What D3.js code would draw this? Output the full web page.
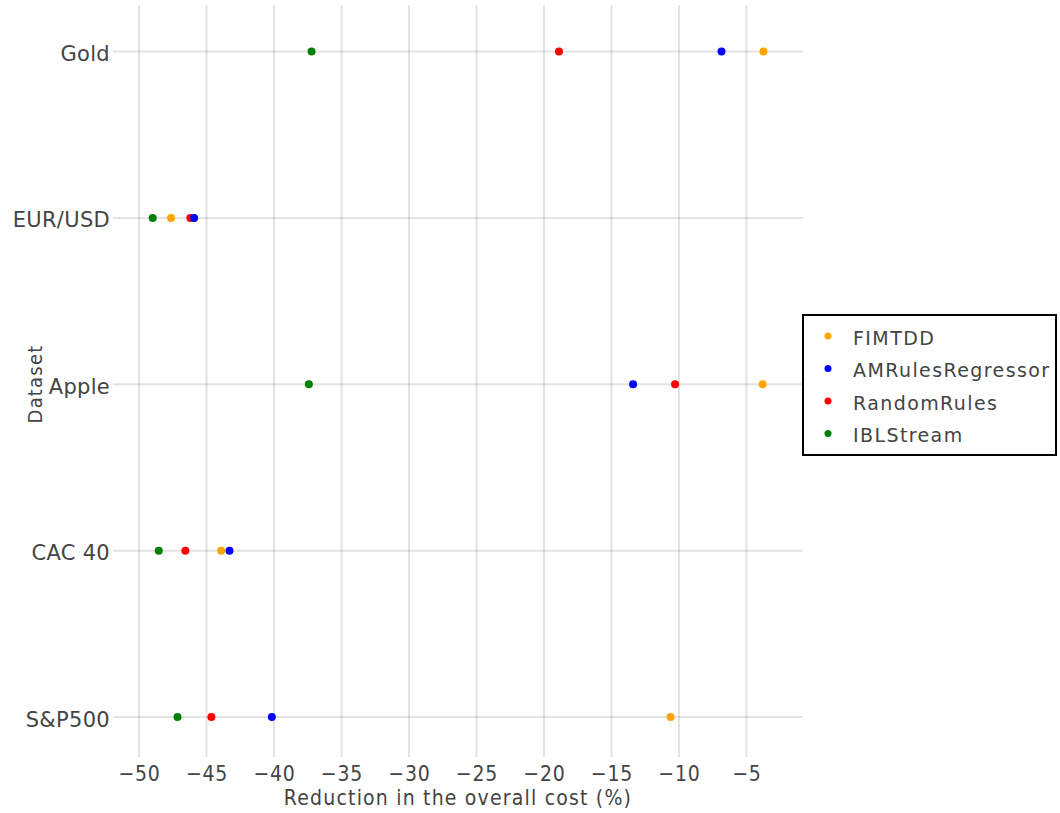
<!DOCTYPE html>
<html>
<head>
<meta charset="utf-8">
<script src="https://cdn.jsdelivr.net/npm/d3@7"></script>
<style>
  body { margin: 0; background: #fff; }
  svg { display: block; }
</style>
</head>
<body>
<div id="chart"></div>
<script>
// datasets, top to bottom
var datasets = ["Gold", "EUR/USD", "Apple", "CAC 40", "S&P500"]
var methods = ["FIMTDD", "AMRulesRegressor", "RandomRules", "IBLStream"]
var colors = ["orange", "blue", "red", "green"]

// reduction in overall cost (%) per dataset, one array per method
var fimtdd = [-3.74, -47.63, -3.80, -43.92, -10.62]
var amrules = [-6.85, -45.92, -13.40, -43.30, -40.16]
var randomRules = [-18.89, -46.20, -10.29, -46.57, -44.64]
var iblStream = [-37.22, -48.99, -37.42, -48.54, -47.15]
var series = [fimtdd, amrules, randomRules, iblStream]

var xTicks = [-50, -45, -40, -35, -30, -25, -20, -15, -10, -5]

var width = 1060, height = 813

var svg = d3.select("#chart").append("svg")
            .attr("width", width)
            .attr("height", height)

var x = d3.scaleLinear().domain([-51.93, -0.81]).range([113, 803])
var y = d3.scaleLinear().domain([-0.28, 4.24]).range([5, 757])

var grid = svg.append("g")

// vertical gridlines
grid.selectAll(".vg")
    .data(xTicks)
    .enter().append("line")
    .attr("x1", function(d) { return x(d) })
    .attr("x2", function(d) { return x(d) })
    .attr("y1", y.range()[0])
    .attr("y2", y.range()[1])
    .attr("stroke", "rgba(0,0,0,0.11)")
    .attr("stroke-width", 2)

// horizontal gridlines
grid.selectAll(".hg")
    .data(datasets)
    .enter().append("line")
    .attr("x1", x.range()[0])
    .attr("x2", x.range()[1])
    .attr("y1", function(d, i) { return y(i) })
    .attr("y2", function(d, i) { return y(i) })
    .attr("stroke", "rgba(0,0,0,0.11)")
    .attr("stroke-width", 2)

// x axis tick labels
var xAxis = d3.axisBottom(x).tickValues(xTicks).tickSize(0).tickPadding(0)
              .tickFormat(function(d) { return "\u2212" + Math.abs(d) })
var gx = svg.append("g").attr("transform", "translate(0,766)").call(xAxis)
gx.select(".domain").remove()
gx.selectAll("text")
  .attr("font-family", "DejaVu Sans Condensed")
  .attr("font-size", 21)
  .attr("letter-spacing", 0.8)
  .attr("fill", "#444")

// y axis tick labels
var gy = svg.append("g")
gy.selectAll("text")
  .data(datasets)
  .enter().append("text")
  .attr("x", 110)
  .attr("y", function(d, i) { return y(i) })
  .attr("dy", "0.45em")
  .attr("text-anchor", "end")
  .attr("font-family", "DejaVu Sans")
  .attr("font-size", 21)
  .attr("letter-spacing", 0.3)
  .attr("fill", "#444")
  .text(function(d) { return d })

// axis titles
svg.append("text")
   .attr("x", 458)
   .attr("y", 805)
   .attr("text-anchor", "middle")
   .attr("font-family", "DejaVu Sans Condensed")
   .attr("font-size", 21)
   .attr("letter-spacing", 1.2)
   .attr("fill", "#444")
   .text("Reduction in the overall cost (%)")

svg.append("text")
   .attr("transform", "translate(42,384) rotate(-90)")
   .attr("text-anchor", "middle")
   .attr("font-family", "DejaVu Sans Condensed")
   .attr("font-size", 20)
   .attr("letter-spacing", 1.2)
   .attr("fill", "#444")
   .text("Dataset")

// points, drawn in reverse so FIMTDD ends on top like the original
for (var s = series.length - 1; s >= 0; s--) {
  svg.append("g").selectAll("circle")
     .data(series[s])
     .enter().append("circle")
     .attr("cx", function(d) { return x(d) })
     .attr("cy", function(d, i) { return y(i) })
     .attr("r", 4)
     .attr("fill", colors[s])
}

// legend
var legend = svg.append("g").attr("transform", "translate(803,315)")
legend.append("rect")
      .attr("width", 253)
      .attr("height", 140)
      .attr("fill", "#fff")
      .attr("stroke", "#000")
      .attr("stroke-width", 2)

var items = legend.selectAll(".item")
                  .data(methods)
                  .enter().append("g")
                  .attr("transform", function(d, i) { return "translate(0," + (21 + i * 32.5) + ")" })
items.append("circle")
     .attr("cx", 25)
     .attr("r", 3.5)
     .attr("fill", function(d, i) { return colors[i] })
items.append("text")
     .attr("x", 50)
     .attr("dy", "0.45em")
     .attr("font-family", "DejaVu Sans")
     .attr("font-size", 19)
     .attr("letter-spacing", 1.4)
     .attr("fill", "#444")
     .text(function(d) { return d })
</script>
</body>
</html>
